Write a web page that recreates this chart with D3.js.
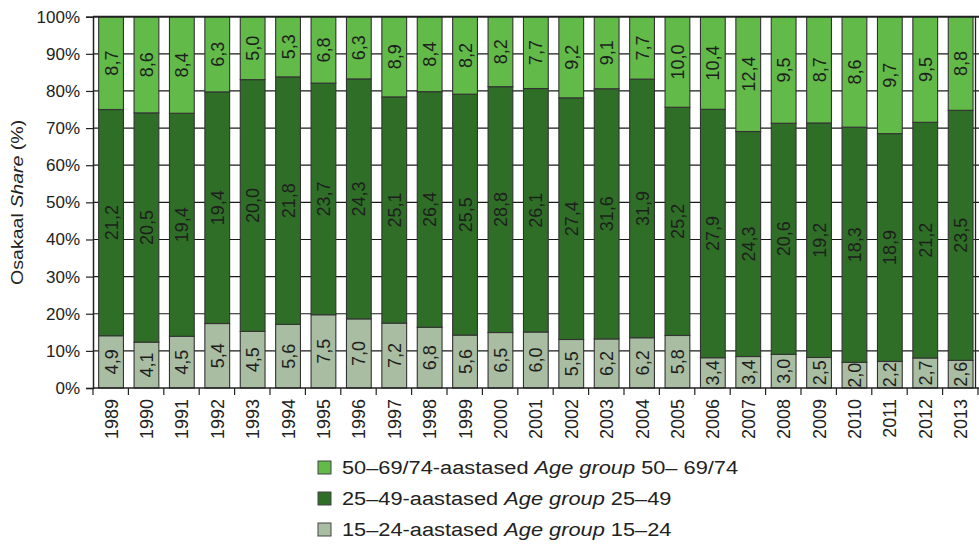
<!DOCTYPE html>
<html>
<head>
<meta charset="utf-8">
<script src="https://cdn.jsdelivr.net/npm/d3@7"></script>
<style>
  html, body { margin: 0; padding: 0; background: #fff; }
  svg { display: block; font-family: "Liberation Sans", Arial, Helvetica, sans-serif; }
</style>
</head>
<body>
<svg id="chart" width="979" height="545"></svg>
<script>
// ---- data ----
const years = ["1989","1990","1991","1992","1993","1994","1995","1996","1997","1998","1999","2000","2001","2002","2003","2004","2005","2006","2007","2008","2009","2010","2011","2012","2013"];
const age15_24 = [4.9,4.1,4.5,5.4,4.5,5.6,7.5,7.0,7.2,6.8,5.6,6.5,6.0,5.5,6.2,6.2,5.8,3.4,3.4,3.0,2.5,2.0,2.2,2.7,2.6];
const age25_49 = [21.2,20.5,19.4,19.4,20.0,21.8,23.7,24.3,25.1,26.4,25.5,28.8,26.1,27.4,31.6,31.9,25.2,27.9,24.3,20.6,19.2,18.3,18.9,21.2,23.5];
const age50_69 = [8.7,8.6,8.4,6.3,5.0,5.3,6.8,6.3,8.9,8.4,8.2,8.2,7.7,9.2,9.1,7.7,10.0,10.4,12.4,9.5,8.7,8.6,9.7,9.5,8.8];
const yTicks = [0,10,20,30,40,50,60,70,80,90,100];
const seriesNames = [
  {key:"a", pre:"15–24-aastased ", it:"Age group", post:" 15–24"},
  {key:"b", pre:"25–49-aastased ", it:"Age group", post:" 25–49"},
  {key:"c", pre:"50–69/74-aastased ", it:"Age group", post:" 50– 69/74"}
];
const colors = {a:"#a9bda2", b:"#2e6e26", c:"#62ba48"};

(function() {
// ---- build table ----
const table = years.map((yr,i) => ({year:yr, a:age15_24[i], b:age25_49[i], c:age50_69[i]}));
const keys = ["a","b","c"];
const stacked = d3.stack().keys(keys).offset(d3.stackOffsetExpand)(table);

const svg = d3.select("#chart");
const pL = 93, pR = 978.7, pT = 16.7, pB = 388;

const x = d3.scaleBand().domain(years).range([pL, pR]).paddingInner(0.3).paddingOuter(0.16);
const y = d3.scaleLinear().domain([0, 100]).range([pB, pT]);

function stretch(sel, k) {
  sel.each(function() {
    const L = this.getComputedTextLength();
    this.setAttribute("textLength", L * k);
    this.setAttribute("lengthAdjust", "spacingAndGlyphs");
  });
}

// gridlines (behind bars)
svg.append("g").selectAll("line").data(yTicks.filter(t => t > 0 && t < 100)).join("line")
  .attr("x1", pL).attr("x2", 979)
  .attr("y1", d => y(d)).attr("y2", d => y(d))
  .attr("stroke", "#1a1a1a").attr("stroke-width", 1.2);

// right frame line
svg.append("line").attr("x1", 975.5).attr("x2", 975.5).attr("y1", pT).attr("y2", pB)
  .attr("stroke", "#222").attr("stroke-width", 1.3);

// bars
const layers = svg.append("g").selectAll("g").data(stacked).join("g")
  .attr("fill", d => colors[d.key]);
layers.selectAll("rect").data(d => d).join("rect")
  .attr("x", d => x(d.data.year))
  .attr("width", x.bandwidth())
  .attr("y", d => y(d[1]*100))
  .attr("height", d => y(d[0]*100) - y(d[1]*100))
  .attr("stroke", "#333").attr("stroke-width", 1.1);

// bar labels
const fmt = v => d3.format(".1f")(v).replace(".", ",");
stacked.forEach(layer => {
  const g = svg.append("g");
  layer.forEach(d => {
    const cx = x(d.data.year) + x.bandwidth()/2;
    const cy = (y(d[0]*100) + y(d[1]*100)) / 2;
    g.append("text")
      .attr("transform", `translate(${cx},${cy}) rotate(-90)`)
      .attr("text-anchor", "middle")
      .attr("dy", "0.36em")
      .attr("font-size", 18)
      .attr("fill", "#1e1e1e")
      .text(fmt(d.data[layer.key]));
  });
});

// top frame line
svg.append("line").attr("x1", pL).attr("x2", 979).attr("y1", pT).attr("y2", pT)
  .attr("stroke", "#222").attr("stroke-width", 2);

// y axis
const yAxis = svg.append("g").attr("transform", `translate(${pL},0)`)
  .call(d3.axisLeft(y).tickValues(yTicks).tickFormat(d => d + "%").tickSize(7).tickPadding(6));
yAxis.select(".domain").attr("stroke", "#222").attr("stroke-width", 1.5);
yAxis.selectAll(".tick line").attr("stroke", "#222").attr("stroke-width", 1.2);
yAxis.selectAll(".tick text").attr("font-size", 17).attr("fill", "#222")
  .attr("font-family", "Liberation Sans, Arial, sans-serif");

// x axis baseline
svg.append("line").attr("x1", pL).attr("x2", 979).attr("y1", pB).attr("y2", pB)
  .attr("stroke", "#222").attr("stroke-width", 1.5);
// x ticks at category boundaries
const step = x.step();
const bounds = d3.range(0, years.length + 1).map(k => pL + k * step);
svg.append("g").selectAll("line").data(bounds).join("line")
  .attr("x1", d => d).attr("x2", d => d)
  .attr("y1", pB).attr("y2", pB + 7)
  .attr("stroke", "#222").attr("stroke-width", 1.2);
// x labels
const xl = svg.append("g").selectAll("text").data(years).join("text")
  .attr("transform", d => `translate(${x(d) + x.bandwidth()/2},${pB + 11}) rotate(-90)`)
  .attr("text-anchor", "end")
  .attr("dy", "0.36em")
  .attr("font-size", 18)
  .attr("fill", "#222")
  .text(d => d);

// y axis title
const yt = svg.append("text")
  .attr("transform", `translate(23,${(pT+pB)/2}) rotate(-90)`)
  .attr("text-anchor", "middle")
  .attr("font-size", 17)
  .attr("fill", "#222");
yt.append("tspan").text("Osakaal ");
yt.append("tspan").attr("font-style", "italic").text("Share");
yt.append("tspan").text(" (%)");
stretch(yt, 1.15);

// legend (top to bottom: c, b, a)
const legendRows = [seriesNames[2], seriesNames[1], seriesNames[0]];
const rowY = [467.5, 498.5, 529.5];
const lg = svg.append("g");
legendRows.forEach((s, i) => {
  const g = lg.append("g").attr("transform", `translate(318,${rowY[i]})`);
  g.append("rect").attr("x", 0).attr("y", -6.5).attr("width", 13).attr("height", 13)
    .attr("fill", colors[s.key]).attr("stroke", "#444").attr("stroke-width", 1);
  const t = g.append("text").attr("x", 24).attr("y", 6.5).attr("font-size", 18).attr("fill", "#222");
  t.append("tspan").text(s.pre);
  t.append("tspan").attr("font-style", "italic").text(s.it);
  t.append("tspan").text(s.post);
  stretch(t, 1.21);
});
})();
</script>
</body>
</html>
